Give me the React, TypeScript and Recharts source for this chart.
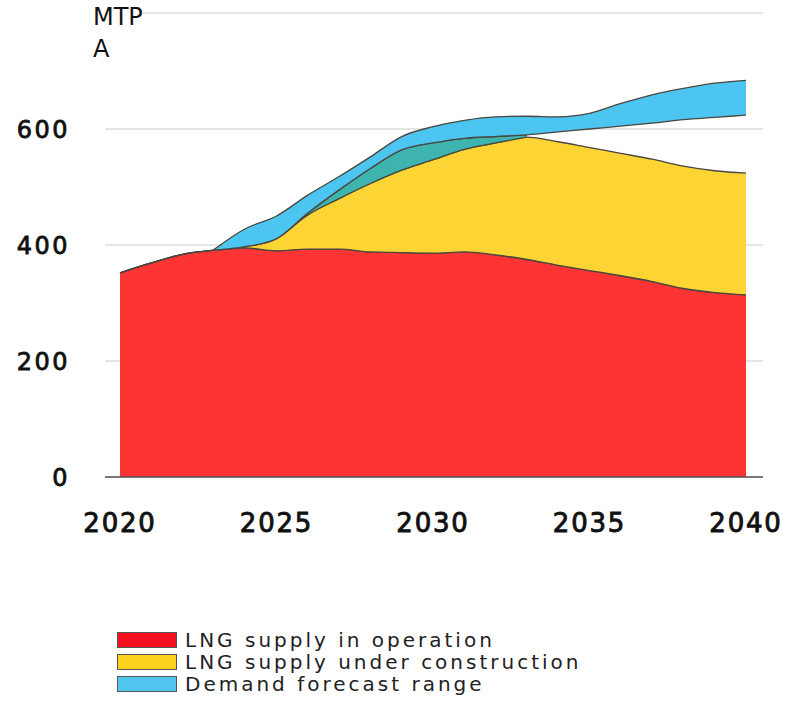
import { AreaChart, Area, XAxis, YAxis, CartesianGrid } from "recharts";

const years = [
  2020, 2021, 2022, 2023, 2024, 2025, 2026, 2027, 2028, 2029, 2030, 2031, 2032,
  2033, 2034, 2035, 2036, 2037, 2038, 2039, 2040,
];
const inOperation = [
  352, 369, 384, 391, 395, 390, 393, 393, 388, 387, 386, 388, 383, 375, 365,
  356, 347, 337, 325, 318, 314,
];
const underConstruction = [
  0, 0, 0, 0, 2, 21, 59, 87, 118, 142, 161, 177, 193, 211, 213, 212, 211, 211,
  211, 210, 210,
];
const demandLow = [
  null, null, null, 391, 397, 411, 455, 495, 532, 564, 576, 584, 587, 590, 595,
  600, 605, 610, 616, 620, 624,
];
const demandHigh = [
  null, null, null, 392, 428, 450, 486, 518, 552, 587, 604, 615, 621, 622, 621,
  627, 644, 659, 670, 679, 684,
];
// years where the low demand bound sits above total supply (teal gap)
const gapYears = [2025, 2026, 2027, 2028, 2029, 2030, 2031, 2032, 2033];

const xTicks = [2020, 2025, 2030, 2035, 2040];
const yTicks = [0, 200, 400, 600, 800];

const COLORS = {
  operation: "#fd3434",
  construction: "#fcd535",
  gap: "#3db4ae",
  demand: "#4cc5f0",
  outline: "#4a4640",
};

const LEGEND = [
  { label: "LNG supply in operation", fill: "#f5101e" },
  { label: "LNG supply under construction", fill: "#fdd21e" },
  { label: "Demand forecast range", fill: "#52c6ef" },
];

const data = years.map((year, i) => {
  const supply = inOperation[i] + underConstruction[i];
  return {
    year,
    operation: inOperation[i],
    construction: [inOperation[i], supply],
    gap: gapYears.includes(year) ? [supply, demandLow[i]] : null,
    demand: demandLow[i] == null ? null : [demandLow[i], demandHigh[i]],
  };
});

const FONT = '"DejaVu Sans", sans-serif';

export default function App() {
  return (
    <div
      style={{
        position: "absolute",
        top: 0,
        left: 0,
        width: 791,
        height: 721,
        background: "#fff",
        fontFamily: FONT,
      }}
    >
      <AreaChart
        width={791}
        height={560}
        data={data}
        margin={{ top: 13, right: 28, left: 0, bottom: 23 }}
      >
        <CartesianGrid vertical={false} stroke="#dcdcdc" strokeWidth={1.5} />
        <XAxis
          dataKey="year"
          type="number"
          domain={[2020, 2040]}
          ticks={xTicks}
          padding={{ left: 15, right: 17 }}
          height={60}
          axisLine={{ stroke: "#555", strokeWidth: 1.5 }}
          tickLine={false}
          tickSize={0}
          tickMargin={37}
          tick={{
            fontSize: 26,
            fill: "#111",
            stroke: "#111",
            strokeWidth: 0.9,
            letterSpacing: 1.8,
            fontFamily: FONT,
          }}
        />
        <YAxis
          domain={[0, 800]}
          ticks={yTicks}
          width={105}
          axisLine={false}
          tickLine={false}
          tickSize={0}
          tickMargin={35}
          tickFormatter={(v) => (v === 800 ? "" : String(v))}
          tick={{
            fontSize: 24,
            fill: "#111",
            stroke: "#111",
            strokeWidth: 0.8,
            fontFamily: FONT,
            letterSpacing: 2.5,
          }}
        />
        <Area
          type="monotone"
          dataKey="operation"
          fill={COLORS.operation}
          fillOpacity={1}
          stroke={COLORS.outline}
          strokeWidth={1.3}
          isAnimationActive={false}
        />
        <Area
          type="monotone"
          dataKey="construction"
          fill={COLORS.construction}
          fillOpacity={1}
          stroke={COLORS.outline}
          strokeWidth={1.3}
          isAnimationActive={false}
        />
        <Area
          type="monotone"
          dataKey="gap"
          fill={COLORS.gap}
          fillOpacity={1}
          stroke={COLORS.outline}
          strokeWidth={1.3}
          isAnimationActive={false}
        />
        <Area
          type="monotone"
          dataKey="demand"
          fill={COLORS.demand}
          fillOpacity={1}
          stroke={COLORS.outline}
          strokeWidth={1.3}
          isAnimationActive={false}
        />
      </AreaChart>

      <div
        style={{
          position: "absolute",
          left: 93,
          top: 1,
          fontSize: 24,
          lineHeight: "32px",
          color: "#111",
        }}
      >
        <span style={{ background: "#fff" }}>MTP</span>
        <br />
        <span>A</span>
      </div>

      <div style={{ position: "absolute", left: 117, top: 629 }}>
        {LEGEND.map((item) => (
          <div
            key={item.label}
            style={{
              display: "flex",
              alignItems: "center",
              height: 22,
              fontSize: 20,
              letterSpacing: 3,
              color: "#222",
            }}
          >
            <span
              style={{
                width: 58,
                height: 14,
                background: item.fill,
                border: "1px solid #555",
                marginRight: 8,
                display: "inline-block",
                flexShrink: 0,
              }}
            />
            <span style={{ lineHeight: "22px", whiteSpace: "nowrap" }}>
              {item.label}
            </span>
          </div>
        ))}
      </div>
    </div>
  );
}
